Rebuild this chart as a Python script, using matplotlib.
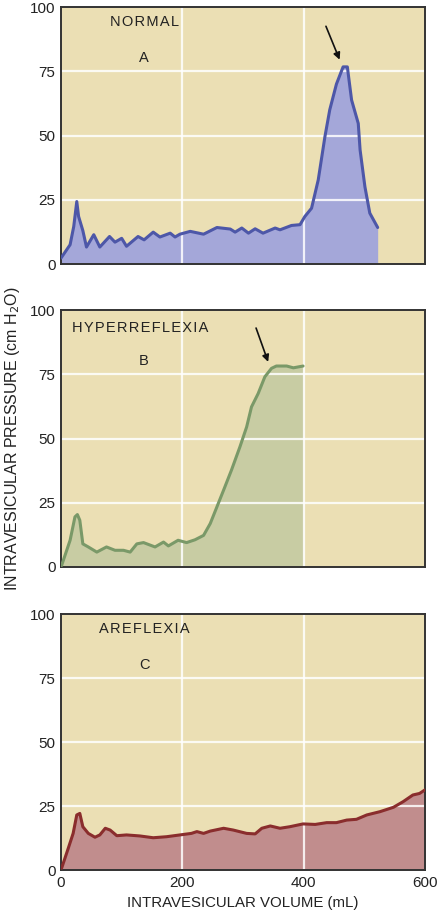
import matplotlib
matplotlib.use("Agg")
import matplotlib.pyplot as plt

plt.rcParams['font.family'] = ['Liberation Sans', 'DejaVu Sans']

# ---- data (volume mL, pressure cm H2O) ----
normal_vol = [0, 15, 21, 26, 29, 36, 42, 54, 64, 80, 89, 100, 108, 127, 137, 152, 163, 180, 188,
              196, 213, 235, 257, 279, 287, 298, 309, 320, 333, 353, 361, 380, 394, 402, 413, 424,
              435, 443, 454, 465, 472, 479, 490, 493, 501, 509, 522]
normal_p = [2.3, 7.5, 14.6, 24.3, 18.5, 13, 6.6, 11.4, 6.6, 10.7, 8.5, 10, 6.9, 10.7, 9.4, 12.4, 10.5,
            12, 10.5, 11.6, 12.7, 11.6, 14.2, 13.6, 12.4, 14, 12, 13.7, 12, 14, 13.3, 15, 15.3, 18.5,
            21.7, 32.7, 49.5, 60, 70, 76.7, 76.7, 63.8, 54.7, 44.4, 30, 19.8, 14.2]

hyper_vol = [1, 15, 23, 27, 31, 36, 45, 59, 75, 89, 103, 114, 125, 136, 155, 169, 177, 193, 207,
             221, 235, 246, 257, 268, 281, 295, 306, 314, 325, 336, 347, 355, 372, 383, 399]
hyper_p = [0.6, 10.4, 19.5, 20.4, 18.2, 9, 7.8, 5.8, 7.8, 6.5, 6.5, 5.8, 9, 9.5, 7.8, 9.7, 8.2,
           10.4, 9.5, 10.6, 12.3, 16.9, 23.4, 29.9, 37.7, 46.8, 54.5, 62.3, 67.5, 74, 77.3, 78.2,
           78.2, 77.5, 78.2]

are_vol = [1, 12, 20, 26, 31, 36, 45, 56, 64, 73, 81, 92, 108, 130, 152, 174, 196, 215, 224, 235,
           246, 268, 284, 306, 320, 331, 345, 361, 377, 399, 419, 438, 454, 471, 487, 504, 526,
           548, 564, 580, 591, 600]
are_p = [0.7, 8.5, 14.3, 21.5, 22.1, 16.9, 14.3, 12.8, 13.7, 16.3, 15.6, 13.4, 13.7, 13.3, 12.6,
         13, 13.7, 14.3, 15, 14.3, 15.2, 16.3, 15.6, 14.3, 14.1, 16.3, 17.2, 16.3, 16.9, 18, 17.8,
         18.5, 18.5, 19.5, 19.8, 21.5, 22.8, 24.5, 26.7, 29.3, 29.9, 31.3]

panel_titles = ["NORMAL", "HYPERREFLEXIA", "AREFLEXIA"]
panel_letters = ["A", "B", "C"]
y_ticks = [0, 25, 50, 75, 100]
x_ticks = [0, 200, 400, 600]
arrows = [((435, 93.5), (461, 78.5)), ((320, 94), (343, 78.8)), None]

bg = '#ebdfb4'
fills = ['#a4a7d9', '#c8cca3', '#c18d8d']
lines = ['#4d57a8', '#7a9968', '#8a2d2d']
txt = '#222222'


def spaced(s):
    return '\u200a'.join(s)


fig = plt.figure(figsize=(4.39, 9.14), dpi=100)
W, H = 439, 914
boxes = [(7, 264), (310, 567), (614, 870)]
series = [(normal_vol, normal_p), (hyper_vol, hyper_p), (are_vol, are_p)]

for i, ((top, bot), (xv, yv)) in enumerate(zip(boxes, series)):
    ax = fig.add_axes([61 / W, 1 - bot / H, 364 / W, (bot - top) / H])
    ax.set_facecolor(bg)
    ax.set_xlim(0, 600)
    ax.set_ylim(0, 100)
    ax.fill_between(xv, yv, 0, color=fills[i], lw=0, zorder=1)
    for yt in y_ticks[1:-1]:
        ax.axhline(yt, color='white', lw=1.6, alpha=0.85, zorder=2)
    for xt in x_ticks[1:-1]:
        ax.axvline(xt, color='white', lw=1.6, alpha=0.85, zorder=2)
    ax.plot(xv, yv, color=lines[i], lw=2.2, solid_joinstyle='round', solid_capstyle='round', zorder=3)
    ax.set_yticks(y_ticks)
    ax.set_xticks(x_ticks)
    ax.tick_params(length=0, labelsize=11, colors=txt, pad=4)
    if i < 2:
        ax.set_xticklabels([])
    for s in ax.spines.values():
        s.set_color('#333333')
        s.set_linewidth(1.4)
    if i == 1:
        ax.text(18, 93, spaced(panel_titles[i]), fontsize=10.5, va='center', ha='left', color=txt)
    else:
        ax.text(137, 94, spaced(panel_titles[i]), fontsize=10.5, va='center', ha='center', color=txt)
    ax.text(137, 80, panel_letters[i], fontsize=10.5, va='center', ha='center', color=txt)
    if arrows[i]:
        (x0, y0), (x1, y1) = arrows[i]
        ax.annotate('', xy=(x1, y1), xytext=(x0, y0),
                    arrowprops=dict(arrowstyle='-|>', color='#111111', lw=1.2, mutation_scale=10))

fig.text(13 / W, 1 - 439 / H, 'INTRAVESICULAR PRESSURE (cm H$_2$O)', rotation=90,
         ha='center', va='center', fontsize=11.5, color=txt)
fig.text(243 / W, 1 - 903 / H, 'INTRAVESICULAR VOLUME (mL)', ha='center', va='center',
         fontsize=10.8, color=txt)

fig.savefig('out.png', dpi=100, facecolor='white')
